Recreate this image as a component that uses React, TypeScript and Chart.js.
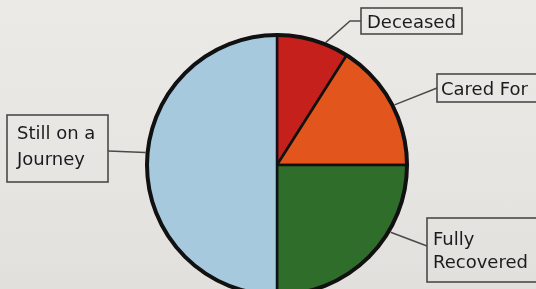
import React, { useEffect, useRef } from "react";
import { Chart, registerables } from "chart.js";

Chart.register(...registerables);

const categories = ["Deceased", "Cared For", "Fully Recovered", "Still on a Journey"];
const shares = [9, 16, 25, 50];
const labelLines = [["Deceased"], ["Cared For"], ["Fully", "Recovered"], ["Still on a", "Journey"]];
const sliceColors = ["#c6201c", "#e2561d", "#2f6e2a", "#a6c9dd"];

// callout layout: anchor fraction within slice, optional elbow, line end, box, text position
const callouts = [
  { frac: 0.67, elbow: [350, 21], end: [361, 21], box: [361, 8, 101, 26], text: [367, 28], lh: 26 },
  { frac: 0.53, elbow: null, end: [437, 88], box: [437, 74, 110, 28], text: [441, 95], lh: 26 },
  { frac: 0.34, elbow: null, end: [427, 246], box: [427, 218, 120, 64], text: [433, 245], lh: 23 },
  { frac: 0.53, elbow: null, end: [108, 151], box: [7, 115, 101, 67], text: [17, 139], lh: 26 },
];

const calloutPlugin = {
  id: "callouts",
  afterDatasetsDraw(chart: any) {
    const ctx = chart.ctx;
    const meta = chart.getDatasetMeta(0);
    ctx.save();
    // thick outer rim
    const a0 = meta.data[0];
    ctx.beginPath();
    ctx.arc(a0.x, a0.y, a0.outerRadius, 0, Math.PI * 2);
    ctx.lineWidth = 4;
    ctx.strokeStyle = "#111";
    ctx.stroke();

    meta.data.forEach((arc: any, i: number) => {
      const c = callouts[i];
      const ang = arc.startAngle + (arc.endAngle - arc.startAngle) * c.frac;
      const sx = arc.x + Math.cos(ang) * (arc.outerRadius + 2);
      const sy = arc.y + Math.sin(ang) * (arc.outerRadius + 2);
      ctx.beginPath();
      ctx.moveTo(sx, sy);
      if (c.elbow) ctx.lineTo(c.elbow[0], c.elbow[1]);
      ctx.lineTo(c.end[0], c.end[1]);
      ctx.lineWidth = 1.5;
      ctx.strokeStyle = "#4a4a48";
      ctx.stroke();

      ctx.strokeStyle = "#4a4a48";
      ctx.lineWidth = 1.6;
      ctx.strokeRect(c.box[0], c.box[1], c.box[2], c.box[3]);

      ctx.fillStyle = "#1c1c1c";
      ctx.font = "18px 'DejaVu Sans'";
      ctx.textAlign = "left";
      ctx.textBaseline = "alphabetic";
      labelLines[i].forEach((ln, k) => {
        ctx.fillText(ln, c.text[0], c.text[1] + k * c.lh);
      });
    });
    ctx.restore();
  },
};

export default function App() {
  const ref = useRef<HTMLCanvasElement | null>(null);
  useEffect(() => {
    document.body.style.margin = "0";
    const chart = new Chart(ref.current!, {
      type: "pie",
      data: {
        labels: categories,
        datasets: [
          {
            data: shares,
            backgroundColor: sliceColors,
            borderColor: "#111",
            borderWidth: 2.5,
          },
        ],
      },
      options: {
        responsive: false,
        animation: false,
        radius: 130,
        layout: { padding: { left: 146, right: 128, top: 34, bottom: 44 } },
        plugins: { legend: { display: false }, tooltip: { enabled: false } },
      } as any,
      plugins: [calloutPlugin],
    });
    return () => chart.destroy();
  }, []);
  return (
    <div
      style={{
        position: "absolute",
        left: 0,
        top: 0,
        width: 536,
        height: 289,
        overflow: "hidden",
        background: "linear-gradient(180deg, #ebeae6 0%, #e6e5e1 60%, #e1e0dc 100%)",
      }}
    >
      <canvas ref={ref} width={536} height={340} style={{ display: "block" }} />
    </div>
  );
}
